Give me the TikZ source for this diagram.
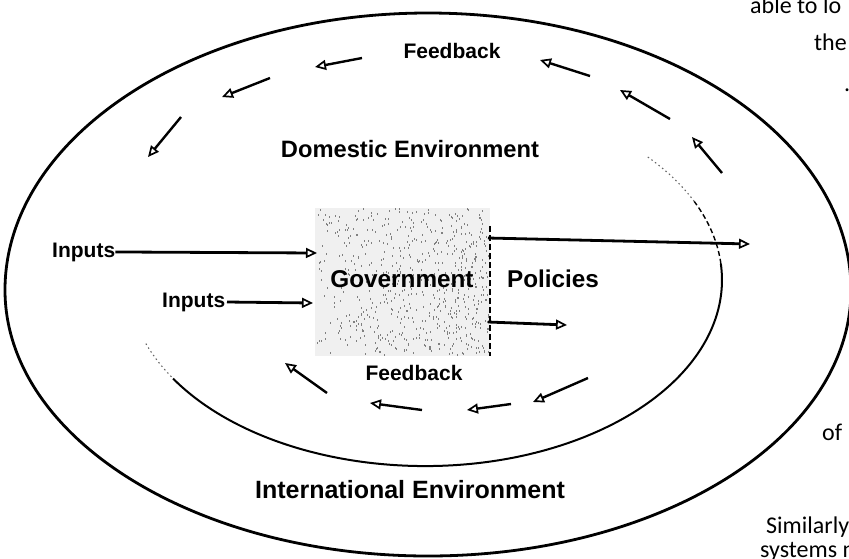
\documentclass[tikz,border=0pt]{standalone}
\usepackage{fontspec}
\setmainfont{Liberation Sans}
\newfontfamily\bodyfont{Carlito}
\usetikzlibrary{arrows.meta}
\begin{document}
\begin{tikzpicture}[x=1pt,y=-1pt,
  lbl/.style={inner sep=0pt, anchor=base, font=\bfseries\fontsize{21}{25}\selectfont},
  body/.style={inner sep=0pt, anchor=base west, text=black, font=\bodyfont\fontsize{24}{29}\selectfont},
  outerline/.style={line width=2.8pt},
  innerline/.style={line width=2pt},
  innerdash/.style={line width=1.4pt, dash pattern=on 5pt off 3pt},
  innerdot/.style={line width=1.1pt, black!60, dash pattern=on 1.5pt off 3pt},
  govbox/.style={draw=none, fill=black!6, minimum width=175pt, minimum height=148pt, inner sep=0pt},
  speck/.style={fill=black!50},
  inarrow/.style={line width=2.8pt, -{Triangle[open, length=11pt, width=10pt, line width=1.7pt]}},
  fbarrow/.style={line width=2.4pt, -{Triangle[open, length=11pt, width=10pt, line width=1.7pt]}},
]
\useasboundingbox (0,0) rectangle (849,558);
\clip (0,0) rectangle (849,558);

% outer ellipse (International Environment)
\draw[outerline] (5,290) arc[start angle=180, end angle=360, x radius=423, y radius=277]
                         arc[start angle=0, end angle=180, x radius=423, y radius=266];

% inner ellipse (Domestic Environment), partly visible
\draw[innerline] (173.1,378.6) arc[start angle=148, end angle=-5, x radius=297, y radius=186];
\draw[innerdash] (720.9,263.8) arc[start angle=-5, end angle=-25, x radius=297, y radius=186];
\draw[innerdot] (694.2,201.4) arc[start angle=-25, end angle=-42, x radius=297, y radius=186];
\draw[innerdot] (145.9,343.6) arc[start angle=160, end angle=148, x radius=297, y radius=186];

% government box (stippled)
\node[govbox] (box) at (402.5,282) {};
\pgfmathsetseed{4711}
\foreach \k in {1,...,650}{
  \pgfmathsetmacro\sx{315+174*(rnd^0.75)}
  \pgfmathsetmacro\sy{208+146*rnd}
  \fill[speck] (\sx,\sy) rectangle ++(1,2);
}
\draw[line width=1.8pt, dash pattern=on 6pt off 3pt] ([yshift=-18pt]box.north east) -- (box.south east);

% labels
\node[lbl, font=\bfseries\fontsize{23.7}{28}\selectfont] (dom) at (410,157) {Domestic Environment};
\node[lbl] (fbtop) at (452,58) {Feedback};
\node[lbl] (fbbot) at (414,380) {Feedback};
\node[lbl, font=\bfseries\fontsize{25}{30}\selectfont] (intl) at (410,498) {International Environment};
\node[lbl, anchor=base west] (in1) at (52,257) {Inputs};
\node[lbl, anchor=base west] (in2) at (162,307) {Inputs};
\node[lbl, font=\bfseries\fontsize{24.3}{29}\selectfont] (govt) at (402,287) {Government};
\node[lbl, font=\bfseries\fontsize{24.3}{29}\selectfont] (pol) at (553,287) {Policies};

% input and output arrows
\coordinate (in1tip) at (317,253);
\coordinate (in2s) at (227,302);
\coordinate (in2tip) at (313,303);
\coordinate (out1s) at (488,238);
\coordinate (out1tip) at (750,244);
\coordinate (out2s) at (488,322);
\coordinate (out2tip) at (567,325);
\draw[inarrow] (in1.east) -- (in1tip);
\draw[inarrow] (in2s) -- (in2tip);
\draw[inarrow] (out1s) -- (out1tip);
\draw[inarrow] (out2s) -- (out2tip);

% feedback arrows
\foreach \i/\ax/\ay/\bx/\by in {1/362/58/315/67, 2/270/78/222/97, 3/181/117/148/157,
  4/590/76/540/60, 5/670/119/620/90, 6/722/173/692/137,
  7/588/378/533/402, 8/511/404/467/410, 9/422/410/370/403, 10/327/393/285/363}{
  \coordinate (fbs\i) at (\ax,\ay);
  \coordinate (fbe\i) at (\bx,\by);
  \draw[fbarrow] (fbs\i) -- (fbe\i);
}

% fragments of the surrounding page text
\node[body] (t1) at (750,13) {able to lo};
\node[body] (t2) at (814,50) {the};
\node[body] (t6) at (844,91) {.};
\node[body] (t3) at (822,440) {of};
\node[body] (t4) at (766,533) {Similarly};
\node[body] (t5) at (760,557) {systems n};
\end{tikzpicture}
\end{document}
